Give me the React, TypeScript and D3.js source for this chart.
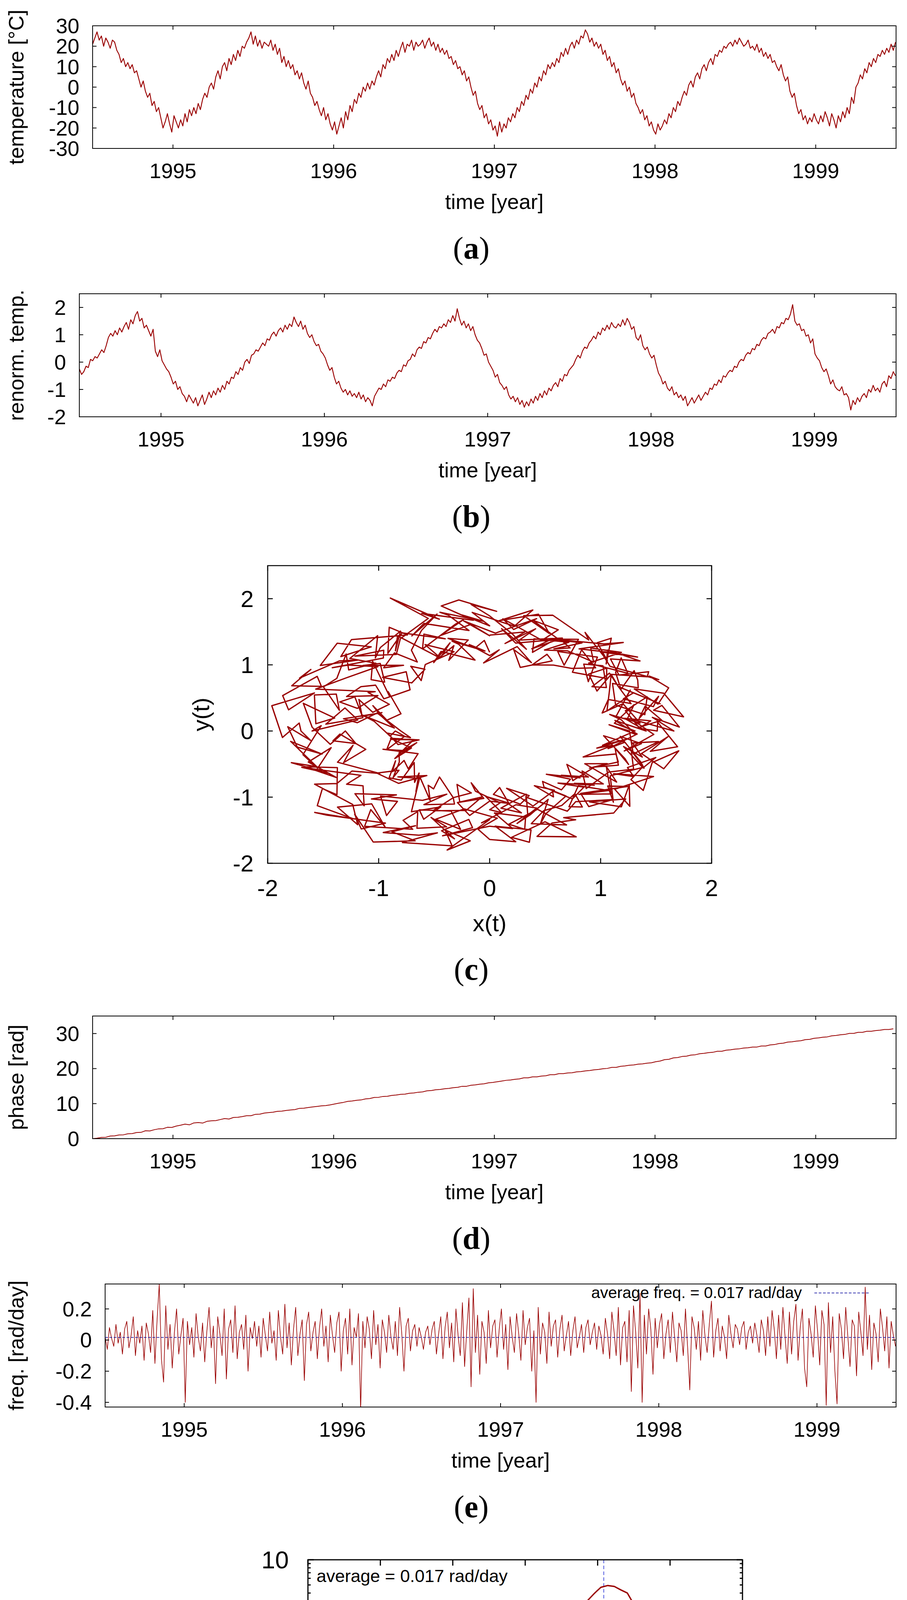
import React, { useEffect, useRef } from 'react'
import * as d3 from 'd3'

const W = 2321
const H = 5209
const RED = '#990000'
const BLUE = '#00009c'
const SANS = '"Liberation Sans", Arial, Helvetica, sans-serif'
const SERIF = '"Liberation Serif", "Times New Roman", serif'

// shared time axis: series sampled every STEP days from mid-1994
const START_YEAR = 1994.5
const END_YEAR = 1999.5
const YEAR_DAYS = 365.25
const STEP = 5
const PHASE_STEP = 10
const yearTicks = [1995, 1996, 1997, 1998, 1999]

// (a) temperature [°C]
const temperature = [
  21, 24, 27, 23, 25, 20, 24, 22, 19, 23, 22, 18, 16, 12, 14, 10, 12, 9, 11, 7,
  8, 4, 0, 3, -2, -5, -3, -9, -7, -12, -10, -15, -20, -17, -13, -18, -22, -14, -17, -20,
  -16, -19, -13, -17, -11, -14, -10, -13, -8, -11, -6, -3, -5, 0, 2, -1, 5, 8, 4, 10,
  12, 8, 14, 11, 16, 13, 18, 15, 20, 19, 22, 24, 27, 21, 25, 20, 23, 19, 22, 21,
  20, 23, 18, 21, 16, 19, 12, 15, 10, 13, 9, 11, 6, 8, 4, 7, 2, -1, 3, -3,
  -5, -9, -7, -11, -14, -10, -16, -13, -18, -21, -17, -23, -19, -15, -20, -12, -16, -9, -12, -6,
  -8, -3, -5, 0, -2, 2, -1, 3, 1, 5, 8, 5, 11, 9, 14, 12, 16, 13, 18, 15,
  19, 22, 17, 21, 20, 23, 18, 22, 20, 21, 23, 19, 22, 24, 20, 22, 18, 21, 17, 19,
  16, 18, 14, 15, 11, 13, 9, 10, 6, 8, 3, 5, 0, -4, -2, -8, -11, -9, -15, -13,
  -18, -16, -21, -19, -24, -17, -22, -18, -20, -15, -17, -13, -15, -10, -12, -7, -9, -4, -6, -1,
  -3, 2, 0, 5, 3, 8, 6, 11, 9, 12, 10, 14, 12, 17, 15, 19, 16, 20, 22, 19,
  23, 21, 25, 24, 28, 26, 22, 24, 20, 22, 19, 21, 16, 18, 13, 15, 10, 12, 7, 9,
  4, 1, 3, -2, 0, -5, -3, -8, -10, -13, -11, -16, -14, -19, -17, -21, -23, -18, -21, -19,
  -16, -18, -13, -15, -10, -12, -7, -9, -5, -2, -4, 1, 3, 0, 5, 7, 4, 9, 11, 8,
  12, 14, 11, 16, 15, 18, 17, 20, 19, 21, 22, 20, 23, 21, 24, 22, 20, 21, 23, 19,
  20, 18, 21, 17, 19, 15, 17, 14, 16, 12, 13, 10, 8, 11, 6, 3, 5, -2, -5, -3,
  -9, -13, -11, -16, -14, -18, -15, -17, -13, -16, -18, -14, -17, -12, -15, -19, -13, -16, -20, -14,
  -17, -12, -15, -10, -13, -5, -8, 0, 2, 6, 4, 9, 7, 12, 10, 14, 12, 16, 15, 18,
  16, 19, 17, 21, 18, 22,
]

// (b) renormalised temperature
const renormTemp = [
  -0.25, -0.45, -0.35, -0.15, -0.2, 0.1, 0.05, 0.2, 0.15, 0.3, 0.45, 0.35, 0.6, 0.9, 1.05, 0.95, 1.15, 1.0, 1.25, 1.1,
  1.3, 1.45, 1.2, 1.55, 1.4, 1.7, 1.85, 1.5, 1.6, 1.25, 1.35, 1.15, 0.95, 1.2, 0.4, 0.2, 0.45, 0.05, -0.1, -0.25,
  -0.35, -0.55, -0.8, -0.7, -1.0, -0.9, -1.15, -1.25, -1.45, -1.2, -1.35, -1.5, -1.3, -1.6, -1.4, -1.2, -1.55, -1.35, -1.1, -1.3,
  -1.05, -1.2, -0.95, -1.1, -0.85, -1.0, -0.7, -0.8, -0.55, -0.6, -0.35, -0.45, -0.2, -0.3, 0.0, 0.1, -0.05, 0.25, 0.3, 0.45,
  0.4, 0.55, 0.7, 0.6, 0.85, 0.8, 1.0, 1.1, 0.95, 1.15, 1.25, 1.1, 1.35, 1.2, 1.4, 1.3, 1.65, 1.45, 1.3, 1.5,
  1.2, 1.35, 1.05, 0.9, 1.0, 0.75, 0.6, 0.65, 0.4, 0.3, 0.15, -0.1, -0.3, -0.2, -0.55, -0.8, -0.7, -0.95, -1.1, -1.0,
  -1.2, -1.05, -1.25, -1.15, -1.3, -1.1, -1.35, -1.2, -1.45, -1.3, -1.4, -1.6, -1.25, -1.1, -0.95, -1.0, -0.8, -0.9, -0.65, -0.7,
  -0.55, -0.6, -0.4, -0.3, -0.35, -0.1, -0.15, 0.05, 0.1, 0.3, 0.2, 0.45, 0.55, 0.5, 0.75, 0.7, 0.9, 0.85, 1.05, 1.2,
  1.1, 1.3, 1.25, 1.4, 1.3, 1.55, 1.45, 1.7, 1.5, 1.95, 1.6, 1.35, 1.5, 1.25, 1.4, 1.15, 1.3, 1.0, 0.8, 0.7,
  0.5, 0.25, 0.3, 0.0, -0.15, -0.3, -0.55, -0.45, -0.75, -0.85, -1.0, -0.9, -1.2, -1.35, -1.25, -1.45, -1.3, -1.55, -1.4, -1.65,
  -1.45, -1.6, -1.35, -1.5, -1.25, -1.4, -1.15, -1.3, -1.05, -1.2, -0.95, -1.05, -0.85, -0.75, -0.9, -0.6, -0.7, -0.45, -0.5, -0.3,
  -0.2, -0.1, 0.1, 0.25, 0.15, 0.4, 0.55, 0.5, 0.7, 0.8, 0.95, 0.85, 1.1, 1.0, 1.25, 1.15, 1.35, 1.2, 1.45, 1.3,
  1.25, 1.4, 1.3, 1.55, 1.35, 1.6, 1.45, 1.2, 1.3, 0.9, 0.8, 1.0, 0.6, 0.45, 0.55, 0.3, 0.15, 0.25, -0.1, -0.4,
  -0.55, -0.8, -0.7, -0.95, -1.05, -0.9, -1.2, -1.1, -1.3, -1.2, -1.4, -1.25, -1.6, -1.45, -1.3, -1.5, -1.35, -1.2, -1.4, -1.25,
  -1.1, -1.2, -0.95, -1.0, -0.8, -0.85, -0.65, -0.75, -0.5, -0.55, -0.4, -0.3, -0.35, -0.15, -0.2, 0.0, 0.1, 0.05, 0.25, 0.35,
  0.3, 0.5, 0.45, 0.65, 0.6, 0.8, 0.9, 0.85, 1.05, 1.1, 1.2, 1.05, 1.3, 1.25, 1.45, 1.4, 1.6, 1.55, 1.75, 2.1,
  1.5, 1.35, 1.4, 1.15, 1.2, 0.95, 1.0, 0.7, 0.85, 0.3, 0.15, 0.05, -0.2, -0.35, -0.25, -0.5, -0.8, -0.65, -0.9, -1.0,
  -1.05, -0.9, -1.2, -1.15, -1.3, -1.75, -1.4, -1.55, -1.3, -1.45, -1.25, -1.15, -1.3, -1.0, -1.1, -0.85, -1.05, -0.95, -1.1, -0.8,
  -0.7, -0.9, -0.5, -0.6, -0.35, -0.5,
]

// (c) phase portrait as polar points: angle [deg, clockwise from +y], radius
const ringAngle = [
  0,
  12, 6, 15, 11, 25, 17, 22, 32, 25, 30, 25, 38, 42, 33, 44, 50, 40, 48, 63, 60,
  68, 75, 64, 70, 83, 78, 76, 88, 82, 90, 82, 92, 104, 98, 94, 109, 112, 103, 114, 120,
  135, 126, 128, 136, 131, 142, 135, 144, 148, 150, 154, 147, 161, 170, 160, 166, 178, 174, 171, 180,
  188, 195, 184, 190, 203, 198, 196, 208, 202, 210, 225, 216, 218, 226, 221, 232, 225, 234, 238, 240,
  252, 246, 255, 251, 265, 257, 262, 272, 265, 270, 274, 267, 281, 290, 280, 286, 298, 294, 291, 300,
  295, 308, 312, 303, 314, 320, 310, 318, 333, 330, 322, 332, 344, 338, 334, 349, 352, 343, 354, 360,
  352, 362, 374, 368, 364, 379, 382, 373, 384, 390, 394, 387, 401, 410, 400, 406, 418, 414, 411, 420,
  432, 426, 435, 431, 445, 437, 442, 452, 445, 450, 465, 456, 458, 466, 461, 472, 465, 474, 478, 480,
  475, 488, 492, 483, 494, 500, 490, 498, 513, 510, 518, 525, 514, 520, 533, 528, 526, 538, 532, 540,
  544, 537, 551, 560, 550, 556, 568, 564, 561, 570, 582, 576, 585, 581, 595, 587, 592, 602, 595, 600,
  592, 602, 614, 608, 604, 619, 622, 613, 624, 630, 625, 638, 642, 633, 644, 650, 640, 648, 663, 660,
  675, 666, 668, 676, 671, 682, 675, 684, 688, 690, 698, 705, 694, 700, 713, 708, 706, 718, 712, 720,
  715, 728, 732, 723, 734, 740, 730, 738, 753, 750, 765, 756, 758, 766, 761, 772, 765, 774, 778, 780,
  772, 782, 794, 788, 784, 799, 802, 793, 804, 810, 822, 816, 825, 821, 835, 827, 832, 842, 835, 840,
  844, 837, 851, 860, 850, 856, 868, 864, 861, 870, 878, 885, 874, 880, 893, 888, 886, 898, 892, 900,
  915, 906, 908, 916, 911, 922, 915, 924, 928, 930, 925, 938, 942, 933, 944, 950, 940, 948, 963, 960,
  964, 957, 971, 980, 970, 976, 988, 984, 981, 990, 982, 992, 1004, 998, 994, 1009, 1012, 1003, 1014, 1020,
  1032, 1026, 1035, 1031, 1045, 1037, 1042, 1052, 1045, 1050, 1058, 1065, 1054, 1060, 1073, 1068, 1066, 1078, 1072, 1080,
  1084, 1077, 1091, 1100, 1090, 1096, 1108, 1104, 1101, 1110, 1118, 1125, 1114, 1120, 1133, 1128, 1126, 1138, 1132, 1140,
  1155, 1146, 1148, 1156, 1151, 1162, 1155, 1164, 1168, 1170, 1165, 1178, 1182, 1173, 1184, 1190, 1180, 1188, 1203, 1200,
  1192, 1202, 1214, 1208, 1204, 1219, 1222, 1213, 1224, 1230, 1242, 1236, 1245, 1241, 1255, 1247, 1252, 1262, 1255, 1260,
  1255, 1268, 1272, 1263, 1274, 1280, 1270, 1278, 1293, 1290, 1294, 1287, 1301, 1310, 1300, 1306, 1318, 1314, 1311, 1320,
  1328, 1335, 1324, 1330, 1343, 1338, 1336, 1348, 1342, 1350, 1365, 1356, 1358, 1366, 1361, 1372, 1365, 1374, 1378, 1380,
  1372, 1382, 1394, 1388, 1384, 1399, 1402, 1393, 1404, 1410, 1422, 1416, 1425, 1421, 1435, 1427, 1432, 1442, 1435, 1440,
  1448, 1455, 1444, 1450, 1463, 1458, 1456, 1468, 1462, 1470, 1482, 1476, 1485, 1481, 1495, 1487, 1492, 1502, 1495, 1500,
  1504, 1497, 1511, 1520, 1510, 1516, 1528, 1524, 1521, 1530, 1522, 1532, 1544, 1538, 1534, 1549, 1552, 1543, 1554, 1560,
  1575, 1566, 1568, 1576, 1571, 1582, 1575, 1584, 1588, 1590, 1585, 1598, 1602, 1593, 1604, 1610, 1600, 1608, 1623, 1620,
  1632, 1626, 1635, 1631, 1645, 1637, 1642, 1652, 1645, 1650, 1642, 1652, 1664, 1658, 1654, 1669, 1672, 1663, 1674, 1680,
  1675, 1688, 1692, 1683, 1694, 1700, 1690, 1698, 1713, 1710, 1718, 1725, 1714, 1720, 1733, 1728, 1726, 1738, 1732, 1740,
  1744, 1737, 1751, 1760, 1750, 1756, 1768, 1764, 1761, 1770, 1785, 1776, 1778, 1786, 1781, 1792, 1785, 1794, 1798, 1800,
]
const ringRadius = [
  1.45,
  1.53, 1.33, 1.6, 1.4, 1.55, 1.3, 1.5, 1.57, 1.37, 1.45, 1.52, 1.67, 1.8, 1.48, 1.64, 1.74, 1.56, 1.46, 1.71, 1.66,
  1.74, 1.57, 1.45, 1.67, 1.76, 1.51, 1.6, 1.71, 1.48, 1.66, 1.29, 1.48, 1.25, 1.38, 1.18, 1.44, 1.5, 1.31, 1.42, 1.24,
  1.23, 1.03, 1.3, 1.1, 1.25, 1.0, 1.2, 1.27, 1.07, 1.15, 0.92, 1.07, 1.2, 0.88, 1.04, 1.14, 0.96, 0.86, 1.11, 1.06,
  1.29, 1.12, 1.0, 1.22, 1.31, 1.06, 1.15, 1.26, 1.03, 1.21, 1.39, 1.58, 1.35, 1.48, 1.28, 1.54, 1.6, 1.41, 1.52, 1.34,
  1.78, 1.58, 1.85, 1.65, 1.8, 1.55, 1.75, 1.82, 1.62, 1.7, 1.72, 1.87, 2.0, 1.68, 1.84, 1.94, 1.76, 1.66, 1.91, 1.86,
  1.89, 1.72, 1.6, 1.82, 1.91, 1.66, 1.75, 1.86, 1.63, 1.81, 1.49, 1.68, 1.45, 1.58, 1.38, 1.64, 1.7, 1.51, 1.62, 1.44,
  1.68, 1.48, 1.75, 1.55, 1.7, 1.45, 1.65, 1.72, 1.52, 1.6, 1.2, 1.35, 1.48, 1.16, 1.32, 1.42, 1.24, 1.14, 1.39, 1.34,
  1.34, 1.17, 1.05, 1.27, 1.36, 1.11, 1.2, 1.31, 1.08, 1.26, 1.34, 1.53, 1.3, 1.43, 1.23, 1.49, 1.55, 1.36, 1.47, 1.29,
  1.63, 1.43, 1.7, 1.5, 1.65, 1.4, 1.6, 1.67, 1.47, 1.55, 1.5, 1.65, 1.78, 1.46, 1.62, 1.72, 1.54, 1.44, 1.69, 1.64,
  1.49, 1.32, 1.2, 1.42, 1.51, 1.26, 1.35, 1.46, 1.23, 1.41, 0.94, 1.13, 0.9, 1.03, 0.83, 1.09, 1.15, 0.96, 1.07, 0.89,
  0.93, 0.73, 1.0, 0.8, 0.95, 0.7, 0.9, 0.97, 0.77, 0.85, 0.9, 1.05, 1.18, 0.86, 1.02, 1.12, 0.94, 0.84, 1.09, 1.04,
  1.49, 1.32, 1.2, 1.42, 1.51, 1.26, 1.35, 1.46, 1.23, 1.41, 1.64, 1.83, 1.6, 1.73, 1.53, 1.79, 1.85, 1.66, 1.77, 1.59,
  1.8, 1.6, 1.87, 1.67, 1.82, 1.57, 1.77, 1.84, 1.64, 1.72, 1.5, 1.65, 1.78, 1.46, 1.62, 1.72, 1.54, 1.44, 1.69, 1.64,
  1.39, 1.22, 1.1, 1.32, 1.41, 1.16, 1.25, 1.36, 1.13, 1.31, 1.04, 1.23, 1.0, 1.13, 0.93, 1.19, 1.25, 1.06, 1.17, 0.99,
  1.38, 1.18, 1.45, 1.25, 1.4, 1.15, 1.35, 1.42, 1.22, 1.3, 1.3, 1.45, 1.58, 1.26, 1.42, 1.52, 1.34, 1.24, 1.49, 1.44,
  1.64, 1.47, 1.35, 1.57, 1.66, 1.41, 1.5, 1.61, 1.38, 1.56, 1.64, 1.83, 1.6, 1.73, 1.53, 1.79, 1.85, 1.66, 1.77, 1.59,
  1.38, 1.18, 1.45, 1.25, 1.4, 1.15, 1.35, 1.42, 1.22, 1.3, 1.45, 1.6, 1.73, 1.41, 1.57, 1.67, 1.49, 1.39, 1.64, 1.59,
  1.74, 1.57, 1.45, 1.67, 1.76, 1.51, 1.6, 1.71, 1.48, 1.66, 1.19, 1.38, 1.15, 1.28, 1.08, 1.34, 1.4, 1.21, 1.32, 1.14,
  1.23, 1.03, 1.3, 1.1, 1.25, 1.0, 1.2, 1.27, 1.07, 1.15, 1.2, 1.35, 1.48, 1.16, 1.32, 1.42, 1.24, 1.14, 1.39, 1.34,
  1.59, 1.42, 1.3, 1.52, 1.61, 1.36, 1.45, 1.56, 1.33, 1.51, 1.52, 1.71, 1.48, 1.61, 1.41, 1.67, 1.73, 1.54, 1.65, 1.47,
  1.48, 1.28, 1.55, 1.35, 1.5, 1.25, 1.45, 1.52, 1.32, 1.4, 1.05, 1.2, 1.33, 1.01, 1.17, 1.27, 1.09, 0.99, 1.24, 1.19,
  1.09, 0.92, 0.8, 1.02, 1.11, 0.86, 0.95, 1.06, 0.83, 1.01, 0.99, 1.18, 0.95, 1.08, 0.88, 1.14, 1.2, 1.01, 1.12, 0.94,
  0.88, 0.68, 0.95, 0.75, 0.9, 0.65, 0.85, 0.92, 0.72, 0.8, 1.05, 1.2, 1.33, 1.01, 1.17, 1.27, 1.09, 0.99, 1.24, 1.19,
  1.69, 1.52, 1.4, 1.62, 1.71, 1.46, 1.55, 1.66, 1.43, 1.61, 1.79, 2.2, 1.75, 1.88, 1.68, 1.94, 2.0, 1.81, 1.92, 1.74,
  1.48, 1.28, 1.55, 1.35, 1.5, 1.25, 1.45, 1.52, 1.32, 1.4, 1.4, 1.55, 1.68, 1.36, 1.52, 1.62, 1.44, 1.34, 1.59, 1.54,
  1.49, 1.32, 1.2, 1.42, 1.51, 1.26, 1.35, 1.46, 1.23, 1.41, 1.14, 1.33, 1.1, 1.23, 1.03, 1.29, 1.35, 1.16, 1.27, 1.09,
  1.06, 0.86, 1.13, 0.93, 1.08, 0.83, 1.03, 1.1, 0.9, 0.98, 1.2, 1.35, 1.48, 1.16, 1.32, 1.42, 1.24, 1.14, 1.39, 1.34,
  1.84, 1.67, 1.55, 1.77, 1.86, 1.61, 1.7, 1.81, 1.58, 1.76, 1.79, 1.98, 1.75, 1.88, 1.68, 1.94, 2.0, 1.81, 1.92, 1.74,
  1.68, 1.48, 1.75, 1.55, 1.7, 1.45, 1.65, 1.72, 1.52, 1.6, 1.2, 1.35, 1.48, 1.16, 1.32, 1.42, 1.24, 1.14, 1.39, 1.34,
  1.24, 1.07, 0.95, 1.17, 1.26, 1.01, 1.1, 1.21, 0.98, 1.16, 1.24, 1.43, 1.2, 1.33, 1.13, 1.39, 1.45, 1.26, 1.37, 1.19,
]

// (d) unwrapped phase [rad], every 10 days
const phase = [
  0, 0.15, 0.35, 0.4, 0.75, 0.8, 1.05, 1.1, 1.4, 1.45, 1.75, 1.8, 2.25, 2.2, 2.55, 2.8, 2.85, 3.25, 3.2, 3.6,
  3.85, 4.15, 3.95, 4.5, 4.6, 4.45, 4.95, 5.1, 5.15, 5.45, 5.75, 5.6, 6.05, 6.1, 6.3, 6.55, 6.55, 6.95, 7.0, 7.3,
  7.45, 7.55, 7.8, 7.85, 8.05, 8.2, 8.3, 8.65, 8.7, 8.9, 9.05, 9.2, 9.35, 9.45, 9.65, 9.9, 10.15, 10.35, 10.65, 10.75,
  10.95, 11.05, 11.35, 11.45, 11.75, 11.8, 12.05, 12.1, 12.35, 12.45, 12.65, 12.7, 12.95, 13.05, 13.25, 13.35, 13.65, 13.75, 13.95, 14.05,
  14.25, 14.35, 14.55, 14.65, 14.95, 14.95, 15.25, 15.35, 15.55, 15.65, 15.95, 16.05, 16.25, 16.45, 16.65, 16.75, 16.95, 17.05, 17.35, 17.35,
  17.65, 17.65, 17.85, 17.95, 18.25, 18.25, 18.55, 18.55, 18.75, 18.8, 19.05, 19.15, 19.35, 19.45, 19.65, 19.75, 19.95, 20.05, 20.35, 20.35,
  20.65, 20.75, 20.95, 21.05, 21.25, 21.35, 21.55, 21.65, 21.95, 22.15, 22.55, 22.65, 23.05, 23.15, 23.45, 23.55, 23.85, 23.95, 24.25, 24.35,
  24.55, 24.65, 24.95, 24.95, 25.25, 25.35, 25.55, 25.65, 25.85, 25.95, 26.15, 26.15, 26.45, 26.45, 26.75, 26.85, 27.15, 27.25, 27.55, 27.65,
  27.85, 27.95, 28.25, 28.35, 28.65, 28.75, 28.95, 29.05, 29.35, 29.45, 29.65, 29.75, 30.05, 30.05, 30.35, 30.35, 30.65, 30.65, 30.85, 30.95,
  31.15, 31.15, 31.35,
]

// (e) instantaneous frequency [rad/day]
const freq = [
  0.02, -0.06, 0.08, 0.01, -0.04, 0.1, -0.02, 0.05, -0.09, 0.07, 0.12, -0.05, 0.03, 0.15, -0.1, 0.06, -0.02, 0.09, -0.13, 0.11,
  0.04, -0.08, 0.19, -0.15, 0.13, 0.36, -0.12, -0.27, 0.22, -0.06, 0.1, -0.18, 0.05, 0.2, -0.09, 0.03, 0.14, -0.4, 0.12, -0.03,
  0.08, -0.11, 0.17, 0.02, -0.07, 0.11, -0.14, 0.06, 0.21, -0.05, 0.09, -0.28, 0.15, 0.04, -0.1, 0.2, -0.25, 0.07, 0.13, -0.08,
  0.22, -0.12, 0.05, 0.1, -0.06, 0.16, -0.2, 0.08, 0.01, 0.12, -0.04, 0.09, -0.11, 0.14, 0.03, -0.07, 0.18, -0.02, 0.06, -0.13,
  0.19, 0.02, -0.09, 0.23, -0.05, 0.11, -0.16, 0.07, 0.21, -0.1, 0.04, 0.13, -0.26, 0.1, 0.18, -0.07, 0.05, 0.12, -0.12, 0.08,
  0.2, -0.04, 0.09, -0.14, 0.16, 0.03, -0.08, 0.11, 0.18, -0.2, 0.06, 0.14, -0.09, 0.2, -0.16, 0.08, 0.02, 0.17, -0.45, 0.12,
  -0.05, 0.15, 0.07, -0.12, 0.19, -0.03, 0.1, -0.18, 0.13, 0.05, -0.08, 0.16, 0.02, -0.06, 0.12, -0.1, 0.21, 0.04, -0.2, 0.09,
  0.14, -0.07, 0.06, 0.1, -0.04, 0.08, 0.02, -0.06, 0.05, 0.09, -0.03, 0.07, 0.12, -0.09, 0.04, 0.15, -0.12, 0.08, 0.18, -0.05,
  0.11, -0.14, 0.2, 0.03, -0.1, 0.24, -0.17, 0.06, 0.27, -0.3, 0.33, -0.08, 0.16, -0.22, 0.12, 0.05, -0.15, 0.19, -0.05, 0.09,
  0.13, -0.11, 0.07, 0.2, -0.06, 0.1, -0.19, 0.15, 0.02, -0.08, 0.17, 0.04, -0.13, 0.19, -0.03, 0.08, 0.14, -0.2, 0.06, -0.4,
  0.21, -0.09, 0.11, 0.05, -0.15, 0.18, -0.04, 0.09, 0.13, -0.11, 0.07, 0.16, -0.07, 0.03, 0.12, -0.1, 0.06, 0.15, -0.05, 0.02,
  0.1, -0.08, 0.08, 0.13, -0.03, 0.05, 0.11, -0.06, 0.09, 0.03, -0.09, 0.14, 0.04, -0.12, 0.18, 0.06, -0.1, 0.21, -0.16, 0.08,
  0.12, -0.14, 0.19, -0.33, 0.22, 0.05, -0.18, 0.3, -0.4, 0.16, -0.09, 0.2, 0.07, -0.22, 0.14, -0.05, 0.1, 0.17, -0.12, 0.04,
  0.13, -0.08, 0.18, 0.02, -0.14, 0.11, 0.06, -0.1, 0.2, -0.05, -0.32, 0.15, 0.08, -0.06, 0.12, -0.13, 0.19, 0.03, -0.08, 0.1,
  0.25, -0.11, 0.06, 0.14, -0.07, 0.09, 0.02, -0.12, 0.16, 0.04, -0.05, 0.1, 0.07, -0.03, 0.08, 0.12, -0.06, 0.05, 0.09, -0.02,
  0.11, 0.03, -0.08, 0.13, 0.06, -0.1, 0.15, -0.04, 0.19, 0.07, -0.12, 0.16, -0.06, 0.21, 0.02, -0.15, 0.18, -0.09, 0.12, 0.23,
  -0.13, 0.08, 0.2, -0.18, -0.3, 0.14, 0.04, -0.11, 0.22, 0.06, -0.16, 0.19, 0.1, -0.42, 0.24, -0.08, 0.15, -0.2, -0.41, 0.17,
  0.07, -0.12, 0.21, 0.02, -0.17, 0.13, 0.09, -0.23, 0.18, 0.05, -0.1, 0.34, -0.06, 0.16, -0.19, 0.11, 0.04, -0.14, 0.2, 0.08,
  -0.07, 0.15, -0.18, 0.12, 0.03, -0.04,
]
const AVG_FREQ = 0.017

// (f) PDF of instantaneous frequency
const pdfFreq = [
  -0.463, -0.446, -0.428, -0.408, -0.391, -0.372, -0.354, -0.336, -0.318, -0.299,
  -0.282, -0.263, -0.246, -0.227, -0.209, -0.19, -0.172, -0.154, -0.136, -0.118,
  -0.1, -0.081, -0.063, -0.045, -0.027, -0.008, 0.009, 0.028, 0.046, 0.064,
  0.082, 0.1, 0.118, 0.136, 0.155, 0.173, 0.19, 0.209, 0.228, 0.247,
  0.265, 0.283, 0.302, 0.32, 0.339, 0.358,
]
const pdfValue = [
  0.0228, 0.0136, 0.0228, 0.0279, 0.0324, 0.0181, 0.0456, 0.0411, 0.0778, 0.087,
  0.1055, 0.171, 0.203, 0.321, 0.302, 0.398, 0.504, 0.743, 0.883, 1.17,
  1.55, 1.97, 2.24, 2.81, 3.28, 4.0, 4.68, 4.92, 4.8, 4.36,
  4.0, 2.93, 2.04, 1.71, 1.22, 0.898, 0.635, 0.441, 0.221, 0.198,
  0.0975, 0.0456, 0.0411, 0.0271, 0.00454, 0.0136,
]
// isolated bins drawn as spikes from the bottom of the axis
const spikeFreq = [-0.7, -0.592, -0.463]
const spikeValue = [0.0092, 0.0046, 0.0228]

type Frame = { left: number; right: number; top: number; bottom: number }

function box(g: any, f: Frame, sw: number) {
  g.append('rect')
    .attr('x', f.left).attr('y', f.top)
    .attr('width', f.right - f.left).attr('height', f.bottom - f.top)
    .attr('fill', 'none').attr('stroke', '#000').attr('stroke-width', sw)
}

function seg(g: any, x1: number, y1: number, x2: number, y2: number, sw: number) {
  g.append('line').attr('x1', x1).attr('y1', y1).attr('x2', x2).attr('y2', y2)
    .attr('stroke', '#000').attr('stroke-width', sw)
}

function label(g: any, x: number, y: number, txt: string, size: number, anchor = 'middle') {
  return g.append('text').attr('x', x).attr('y', y)
    .attr('font-family', SANS).attr('font-size', size)
    .attr('text-anchor', anchor).attr('fill', '#000').text(txt)
}

function ylabel(g: any, cx: number, cy: number, txt: string, size: number) {
  g.append('text').attr('transform', `translate(${cx},${cy}) rotate(-90)`)
    .attr('text-anchor', 'middle').attr('dy', '0.3em')
    .attr('font-family', SANS).attr('font-size', size).text(txt)
}

function caption(g: any, y: number, letter: string) {
  const t = g.append('text').attr('x', 1206).attr('y', y).attr('text-anchor', 'middle')
    .attr('font-family', SERIF).attr('font-size', 80)
  t.append('tspan').text('(')
  t.append('tspan').attr('font-weight', 'bold').text(letter)
  t.append('tspan').text(')')
}

function clip(g: any, id: string, f: Frame) {
  g.append('clipPath').attr('id', id).append('rect')
    .attr('x', f.left).attr('y', f.top)
    .attr('width', f.right - f.left).attr('height', f.bottom - f.top)
}

type TimeSpec = {
  id: string
  frame: Frame
  yDomain: [number, number]
  yTickValues: number[]
  values: number[]
  stepDays: number
  ylab: string
  width: number
}

function timePanel(root: any, s: TimeSpec) {
  const f = s.frame
  const x = d3.scaleLinear().domain([START_YEAR, END_YEAR]).range([f.left, f.right])
  const y = d3.scaleLinear().domain(s.yDomain).range([f.bottom, f.top])
  const g = root.append('g')
  clip(g, 'clip-' + s.id, f)
  const line = d3.line<number>()
    .x((_, i) => x(START_YEAR + (i * s.stepDays) / YEAR_DAYS))
    .y(d => y(d))
  g.append('path').attr('d', line(s.values))
    .attr('fill', 'none').attr('stroke', RED).attr('stroke-width', s.width)
    .attr('stroke-linejoin', 'round').attr('clip-path', `url(#clip-${s.id})`)
  box(g, f, 2)
  const tl = 10
  yearTicks.forEach(yr => {
    const px = x(yr)
    seg(g, px, f.bottom, px, f.bottom - tl, 2)
    seg(g, px, f.top, px, f.top + tl, 2)
    label(g, px, f.bottom + 76, String(yr), 54)
  })
  s.yTickValues.forEach(v => {
    const py = y(v)
    seg(g, f.left, py, f.left + tl, py, 2)
    seg(g, f.right, py, f.right - tl, py, 2)
    label(g, f.left - 34, py, String(v), 54, 'end').attr('dy', '0.35em')
  })
  label(g, (f.left + f.right) / 2, f.bottom + 155, 'time [year]', 54)
  ylabel(g, 44, (f.top + f.bottom) / 2, s.ylab, 54)
  caption(g, f.bottom + 282, s.id)
  return { g, x, y }
}

function phasePortrait(root: any) {
  const f: Frame = { left: 685, right: 1821, top: 1448, bottom: 2210 }
  const x = d3.scaleLinear().domain([-2, 2]).range([f.left, f.right])
  const y = d3.scaleLinear().domain([-2, 2.5]).range([f.bottom, f.top])
  const g = root.append('g')
  clip(g, 'clip-c', f)
  // polar points drawn in data units, then stretched to the (non-square) axes
  const kx = x(1) - x(0)
  const ky = y(0) - y(1)
  const radial = d3.lineRadial<number>()
    .angle(d => (d * Math.PI) / 180)
    .radius((_, i) => ringRadius[i])
  g.append('g').attr('clip-path', 'url(#clip-c)')
    .append('path').attr('d', radial(ringAngle))
    .attr('transform', `translate(${x(0)},${y(0)}) scale(${kx},${ky})`)
    .attr('vector-effect', 'non-scaling-stroke')
    .attr('fill', 'none').attr('stroke', RED).attr('stroke-width', 3.3)
    .attr('stroke-linejoin', 'round')
  box(g, f, 2.5)
  const tl = 13
  ;[-2, -1, 0, 1, 2].forEach(v => {
    const px = x(v)
    seg(g, px, f.bottom, px, f.bottom - tl, 2.5)
    seg(g, px, f.top, px, f.top + tl, 2.5)
    label(g, px, f.bottom + 84, String(v), 60)
    const py = y(v)
    seg(g, f.left, py, f.left + tl, py, 2.5)
    seg(g, f.right, py, f.right - tl, py, 2.5)
    label(g, f.left - 36, py, String(v), 60, 'end').attr('dy', '0.35em')
  })
  label(g, (f.left + f.right) / 2, f.bottom + 174, 'x(t)', 60)
  ylabel(g, 517, (f.top + f.bottom) / 2, 'y(t)', 60)
  caption(g, f.bottom + 298, 'c')
}

function pdfPanel(root: any) {
  const f: Frame = { left: 788, right: 1900, top: 3993, bottom: 4849 }
  const x = d3.scaleLinear().domain([-0.8, 0.4]).range([f.left, f.right])
  const y = d3.scaleLog().domain([0.001, 10]).range([f.bottom, f.top])
  const g = root.append('g')
  clip(g, 'clip-f', f)
  g.append('line')
    .attr('x1', x(AVG_FREQ)).attr('x2', x(AVG_FREQ))
    .attr('y1', f.top).attr('y2', f.bottom)
    .attr('stroke', '#2a35d8').attr('stroke-width', 1.6).attr('stroke-dasharray', '9,6')
  const line = d3.line<number>().x(d => x(d)).y((_, i) => y(pdfValue[i]))
  g.append('path').attr('d', line(pdfFreq))
    .attr('fill', 'none').attr('stroke', RED).attr('stroke-width', 3.5)
    .attr('stroke-linejoin', 'round').attr('clip-path', 'url(#clip-f)')
  spikeFreq.forEach((v, i) => {
    g.append('line').attr('x1', x(v)).attr('x2', x(v))
      .attr('y1', f.bottom).attr('y2', y(spikeValue[i]))
      .attr('stroke', RED).attr('stroke-width', 3.5)
  })
  box(g, f, 3)
  const major = 15
  const minor = 7
  ;[-0.8, -0.6, -0.4, -0.2, 0, 0.2, 0.4].forEach(v => {
    const px = x(v)
    seg(g, px, f.bottom, px, f.bottom - major, 3)
    seg(g, px, f.top, px, f.top + major, 3)
    label(g, px, f.bottom + 96, String(v), 63)
  })
  const decades = [0.001, 0.01, 0.1, 1, 10]
  decades.forEach(v => {
    const py = y(v)
    seg(g, f.left, py, f.left + major, py, 3)
    seg(g, f.right, py, f.right - major, py, 3)
    label(g, f.left - 49, py, String(v), 63, 'end').attr('dy', '0.35em')
  })
  decades.slice(0, -1).forEach(d => {
    for (let k = 2; k <= 9; k++) {
      const py = y(d * k)
      seg(g, f.left, py, f.left + minor, py, 3)
      seg(g, f.right, py, f.right - minor, py, 3)
    }
  })
  label(g, 810, 4050, 'average = 0.017 rad/day', 45, 'start')
  label(g, (f.left + f.right) / 2, f.bottom + 193, 'instantaneous frequency [rad/day]', 63)
  g.append('text').attr('transform', `translate(419,${(f.top + f.bottom) / 2}) rotate(-90)`)
    .attr('text-anchor', 'middle').attr('dy', '0.36em')
    .attr('font-family', SANS).attr('font-size', 70).text('PDF')
  caption(g, f.bottom + 328, 'f')
}

export default function App() {
  const ref = useRef<SVGSVGElement | null>(null)

  useEffect(() => {
    document.body.style.margin = '0'
    const svg = d3.select(ref.current!)
    svg.selectAll('*').remove()
    svg.append('rect').attr('width', W).attr('height', H).attr('fill', '#fff')
    const root = svg.append('g')

    timePanel(root, {
      id: 'a', frame: { left: 237, right: 2293, top: 66, bottom: 380 },
      yDomain: [-30, 30], yTickValues: [-30, -20, -10, 0, 10, 20, 30],
      values: temperature, stepDays: STEP, ylab: 'temperature [°C]', width: 2.3,
    })
    timePanel(root, {
      id: 'b', frame: { left: 203, right: 2293, top: 752, bottom: 1067 },
      yDomain: [-2, 2.5], yTickValues: [-2, -1, 0, 1, 2],
      values: renormTemp, stepDays: STEP, ylab: 'renorm. temp.', width: 2.3,
    })
    phasePortrait(root)
    timePanel(root, {
      id: 'd', frame: { left: 237, right: 2293, top: 2601, bottom: 2915 },
      yDomain: [0, 35], yTickValues: [0, 10, 20, 30],
      values: phase, stepDays: PHASE_STEP, ylab: 'phase [rad]', width: 2,
    })
    const e = timePanel(root, {
      id: 'e', frame: { left: 269, right: 2293, top: 3287, bottom: 3602 },
      yDomain: [-0.43, 0.36], yTickValues: [-0.4, -0.2, 0, 0.2],
      values: freq, stepDays: STEP, ylab: 'freq. [rad/day]', width: 1.6,
    })
    // average frequency line and its key
    e.g.append('line')
      .attr('x1', 269).attr('x2', 2293)
      .attr('y1', e.y(AVG_FREQ)).attr('y2', e.y(AVG_FREQ))
      .attr('stroke', BLUE).attr('stroke-width', 1.7).attr('stroke-dasharray', '7,4')
    label(e.g, 2052, 3323, 'average freq. = 0.017 rad/day', 41, 'end')
    e.g.append('line').attr('x1', 2084).attr('x2', 2227).attr('y1', 3310).attr('y2', 3310)
      .attr('stroke', BLUE).attr('stroke-width', 1.7).attr('stroke-dasharray', '7,4')

    pdfPanel(root)
  }, [])

  return <svg ref={ref} width={W} height={H} viewBox={`0 0 ${W} ${H}`} style={{ display: 'block' }} />
}
